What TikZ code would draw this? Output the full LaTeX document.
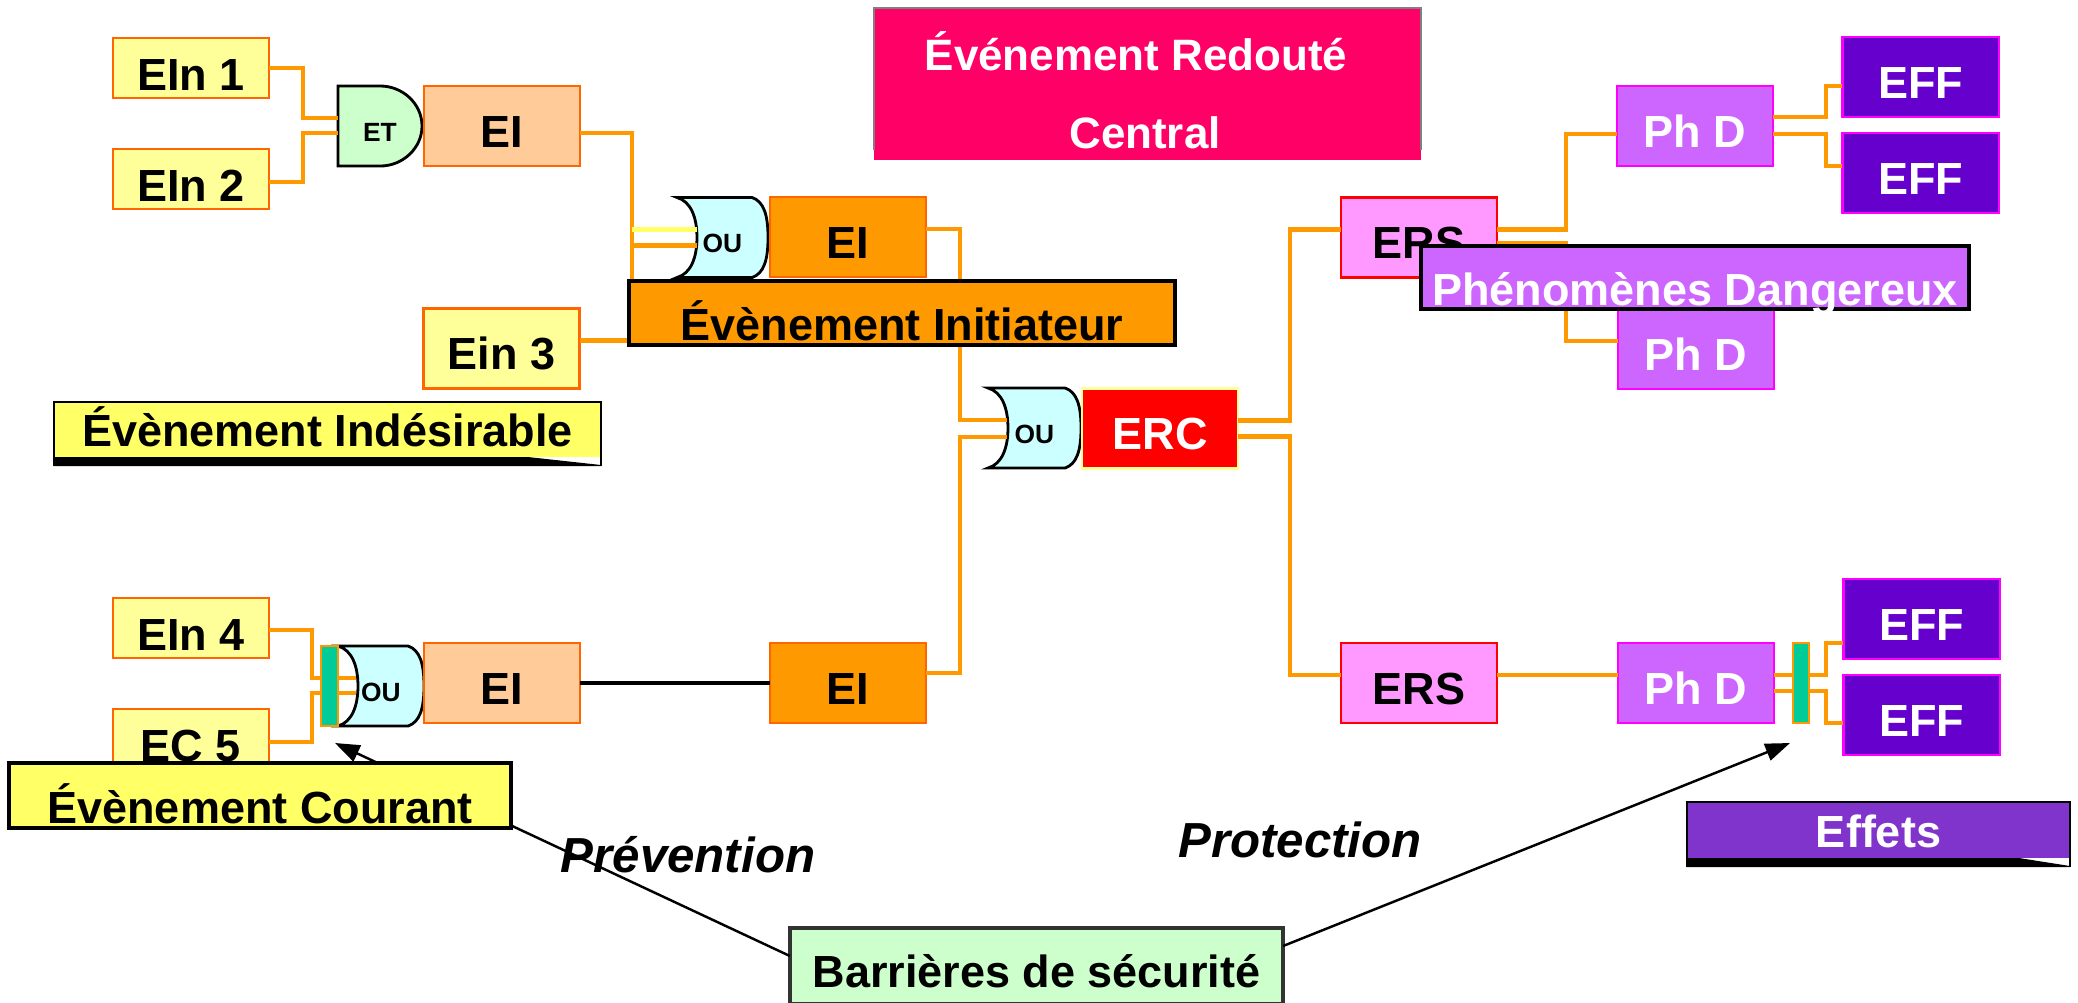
\documentclass[tikz,border=0pt]{standalone}
\usepackage{fontspec}
\setmainfont{Liberation Sans}
\usetikzlibrary{calc,arrows.meta,backgrounds}

\definecolor{cConn}{HTML}{FF9900}
\definecolor{cYel}{HTML}{FFFF66}
\definecolor{cEin}{HTML}{FFFF99}
\definecolor{cEiLight}{HTML}{FFCC99}
\definecolor{cEiOrange}{HTML}{FF9900}
\definecolor{cEdge}{HTML}{FF6600}
\definecolor{cAnd}{HTML}{CCFFCC}
\definecolor{cOr}{HTML}{CCFFFF}
\definecolor{cErs}{HTML}{FF99FF}
\definecolor{cPhd}{HTML}{CC66FF}
\definecolor{cEff}{HTML}{6600CC}
\definecolor{cMag}{HTML}{FF00FF}
\definecolor{cErd}{HTML}{FF0066}
\definecolor{cLeg}{HTML}{FFFF66}
\definecolor{cEffets}{RGB}{128,52,204}
\definecolor{cBarrier}{HTML}{CCFFCC}
\definecolor{cGreen}{HTML}{00CC99}

\newcommand{\boxfont}{\bfseries\fontsize{12.8}{15}\selectfont}
\newcommand{\gatefont}{\bfseries\fontsize{7.5}{9}\selectfont}
\newcommand{\titlefont}{\bfseries\fontsize{12.5}{15}\selectfont}
\newcommand{\slantfont}{\bfseries\itshape\fontsize{14}{16}\selectfont}

% OR gate outline built from the anchors of its node
\newcommand{\drawougate}[1]{%
  \filldraw[gateline, fill=cOr] (#1.north west) -- ($(#1.north east)+(-16,0)$)
    .. controls ($(#1.north east)+(-4,4)$) and ($(#1.east)+(0,-22)$) .. (#1.east)
    .. controls ($(#1.east)+(0,22)$) and ($(#1.south east)+(-4,-4)$) .. ($(#1.south east)+(-16,0)$)
    -- (#1.south west)
    .. controls ($(#1.south west)+(14,-4)$) and ($(#1.west)+(20,20)$) .. ($(#1.west)+(20,0)$)
    .. controls ($(#1.west)+(20,-20)$) and ($(#1.north west)+(14,4)$) .. (#1.north west) -- cycle;}

\begin{document}
\begin{tikzpicture}[x=0.01cm,y=-0.01cm,
  evbox/.style={draw=cEdge, line width=0.6pt, inner sep=0pt, outer sep=0pt,
    minimum width=1.56cm, minimum height=0.8cm, text height=0.42cm, text depth=0pt, font=\boxfont},
  ein/.style={evbox, fill=cEin, minimum height=0.6cm, text height=0.45cm},
  eilight/.style={evbox, fill=cEiLight},
  eiorange/.style={evbox, fill=cEiOrange},
  ers/.style={evbox, fill=cErs, draw=red},
  phd/.style={evbox, fill=cPhd, draw=cMag, text=white},
  eff/.style={evbox, fill=cEff, draw=cMag, text=white},
  erc/.style={evbox, fill=red, draw=cEin, text=white},
  gate/.style={inner sep=0pt, outer sep=0pt, minimum height=0.8cm,
    text height=0.30cm, text depth=0pt, font=\gatefont},
  gateline/.style={draw=black, line width=0.8pt},
  con/.style={draw=cConn, line width=1.2pt},
  greenbar/.style={fill=cGreen, draw=cConn, line width=0.5pt, inner sep=0pt, outer sep=0pt,
    minimum height=0.8cm},
  legend/.style={draw=black, line width=1pt, inner sep=0pt, outer sep=0pt,
    font=\boxfont, text depth=0pt},
  shadowlbl/.style={inner sep=0pt, outer sep=0pt, font=\boxfont, text depth=0pt},
  arr/.style={draw=black, line width=0.7pt, -{Triangle[length=7pt,width=5pt]}}
]
\useasboundingbox (0,0) rectangle (2078,1002);

% ---------- central feared event banner ----------
\node[fill=cErd, inner sep=0pt, outer sep=0pt, minimum width=5.47cm, minimum height=1.52cm] (erd) at (1147.5,84) {};
\draw[gray, line width=0.4pt] ($(erd.south west)+(0,-10)$) -- (erd.north west) -- (erd.north east) -- ($(erd.south east)+(0,-10)$);
\node[anchor=base, text=white, font=\titlefont] (erdA) at (1136,70) {Événement Redouté};
\node[anchor=base, text=white, font=\titlefont] (erdB) at (1145,148) {Central};

% ---------- events ----------
\node[ein] (ein1) at (191,68) {EIn 1};
\node[ein] (ein2) at (191,179) {EIn 2};
\node[evbox, fill=cEin] (ein3) at (501.5,348.5) {Ein 3};
\node[ein] (ein4) at (191,628) {EIn 4};
\node[ein] (ec5) at (191,739) {EC 5};

\node[eilight] (eiA) at (502,126) {EI};
\node[eiorange] (eiB) at (848,237) {EI};
\node[eilight] (eiC) at (502,683) {EI};
\node[eiorange] (eiD) at (848,683) {EI};

\node[erc] (erc) at (1160,428.5) {ERC};
\node[ers] (ersA) at (1419,237.5) {ERS};
\node[ers] (ersB) at (1419,683) {ERS};
\node[phd] (phdA) at (1695,126) {Ph D};
\node[phd] (phdB) at (1696,349) {Ph D};
\node[phd] (phdC) at (1696,683) {Ph D};
\node[eff] (eff1) at (1920.5,77) {EFF};
\node[eff] (eff2) at (1920.5,173) {EFF};
\node[eff] (eff3) at (1921.5,619) {EFF};
\node[eff] (eff4) at (1921.5,715) {EFF};

% ---------- logic gates ----------
\node[gate, minimum width=0.84cm] (et) at (380,126) {ET};
\node[gate, minimum width=0.91cm] (or1) at (722.5,237.5) {OU};
\node[gate, minimum width=0.93cm] (or2) at (1034.5,428) {OU};
\node[gate, minimum width=0.86cm] (or3) at (381,686) {OU};

\begin{scope}[on background layer]
  \filldraw[gateline, fill=cAnd] (et.north west) -- ($(et.north east)+(-42,0)$)
    .. controls ($(et.north east)+(-19,0)$) and ($(et.east)+(0,-22)$) .. (et.east)
    .. controls ($(et.east)+(0,22)$) and ($(et.south east)+(-19,0)$) .. ($(et.south east)+(-42,0)$)
    -- (et.south west) -- cycle;
  \drawougate{or1}
  \drawougate{or2}
  \drawougate{or3}
\end{scope}

% ---------- connectors ----------
\draw[con] (ein1.east) -- ++(34,0) |- ($(et.west)+(0,-8)$);
\draw[con] ($(ein2.east)+(0,3)$) -- ++(34,0) |- ($(et.west)+(0,7)$);
\draw[con] ($(eiA.east)+(0,7)$) -- ++(52,0) |- ($(ein3.east)+(0,-8)$);
\draw[con, draw=cYel] ($(or1.west)+(20,-8)$) -- ++(-65,0);
\draw[con] ($(or1.west)+(20,8)$) -- ++(-65,0);
\draw[con] ($(eiB.east)+(0,-8)$) -- ++(34,0) |- ($(or2.west)+(19,-8)$);
\draw[con] ($(eiD.east)+(0,-10)$) -- ++(34,0) |- ($(or2.west)+(19,9)$);
\draw[line width=0.9pt] (eiC.east) -- (eiD.west);
\draw[con] ($(ein4.east)+(0,2)$) -- ++(43,0) |- ($(or3.west)+(18,-8)$);
\draw[con] ($(ec5.east)+(0,3)$) -- ++(43,0) |- ($(or3.west)+(18,7)$);

\draw[con] ($(erc.east)+(0,-8)$) -- ++(52,0) |- ($(ersA.west)+(0,-8)$);
\draw[con] ($(erc.east)+(0,8)$) -- ++(52,0) |- ($(ersB.west)+(0,-8)$);
\draw[con] ($(ersA.east)+(0,-8)$) -- ++(69,0) |- ($(phdA.west)+(0,8)$);
\draw[con] ($(ersA.east)+(0,6)$) -- ++(69,0) |- ($(phdB.west)+(0,-8)$);
\draw[con] ($(phdA.east)+(0,-9)$) -- ++(53,0) |- ($(eff1.west)+(0,9)$);
\draw[con] ($(phdA.east)+(0,8)$) -- ++(53,0) |- ($(eff2.west)+(0,-7)$);
\draw[con] ($(ersB.east)+(0,-8)$) -- ($(phdC.west)+(0,-8)$);
\draw[con] ($(phdC.east)+(0,-8)$) -- ++(52,0) |- ($(eff3.west)+(0,24)$);
\draw[con] ($(phdC.east)+(0,8)$) -- ++(52,0) |- ($(eff4.west)+(0,8)$);

% ---------- safety barriers ----------
\node[greenbar, minimum width=0.17cm] (barL) at (329.5,686) {};
\node[greenbar, minimum width=0.16cm] (barR) at (1801,683) {};

\node[legend, fill=cBarrier, draw=black!80, minimum width=4.93cm, minimum height=0.76cm, text height=0.42cm] (barr) at (1036.5,966) {Barrières de sécurité};
\coordinate (tipPrev) at (335,743);
\coordinate (tipProt) at (1790,743);
\draw[arr] ($(barr.north west)+(0,28)$) -- (tipPrev);
\draw[arr] ($(barr.north east)+(0,18)$) -- (tipProt);
\node[anchor=base, font=\slantfont] (prev) at (688,872) {Prévention};
\node[anchor=base, font=\slantfont] (prot) at (1300,857) {Protection};

% ---------- legend labels ----------
\node[legend, fill=cEiOrange, minimum width=5.46cm, minimum height=0.64cm, text height=0.54cm] (lblInit) at (902,313) {Évènement Initiateur};
\node[legend, fill=cPhd, text=white, minimum width=5.48cm, minimum height=0.63cm, text height=0.55cm] (lblPhd) at (1695,277.5) {Phénomènes Dangereux};
\node[legend, fill=cLeg, minimum width=5.02cm, minimum height=0.65cm, text height=0.55cm] (lblCour) at (260,795.5) {Évènement Courant};

\node[shadowlbl, fill=cLeg, minimum width=5.47cm, minimum height=0.55cm, text height=0.33cm] (lblInd) at (327.5,429.5) {Évènement Indésirable};
\fill (lblInd.south west) -- ($(lblInd.south east)+(-73,0)$) -- ($(lblInd.south east)+(0,8)$)
  -- ($(lblInd.south east)+(0,9)$) -- ($(lblInd.south west)+(0,9)$) -- cycle;
\draw[line width=0.5pt] ($(lblInd.south west)+(0,9)$) -- (lblInd.north west) -- (lblInd.north east) -- ($(lblInd.south east)+(0,9)$);

\node[shadowlbl, fill=cEffets, text=white, minimum width=3.83cm, minimum height=0.56cm, text height=0.34cm] (lblEff) at (1878.5,830) {Effets};
\fill (lblEff.south west) -- ($(lblEff.south east)+(-51,0)$) -- ($(lblEff.south east)+(0,8)$)
  -- ($(lblEff.south east)+(0,9)$) -- ($(lblEff.south west)+(0,9)$) -- cycle;
\draw[line width=0.5pt] ($(lblEff.south west)+(0,9)$) -- (lblEff.north west) -- (lblEff.north east) -- ($(lblEff.south east)+(0,9)$);

\end{tikzpicture}
\end{document}
